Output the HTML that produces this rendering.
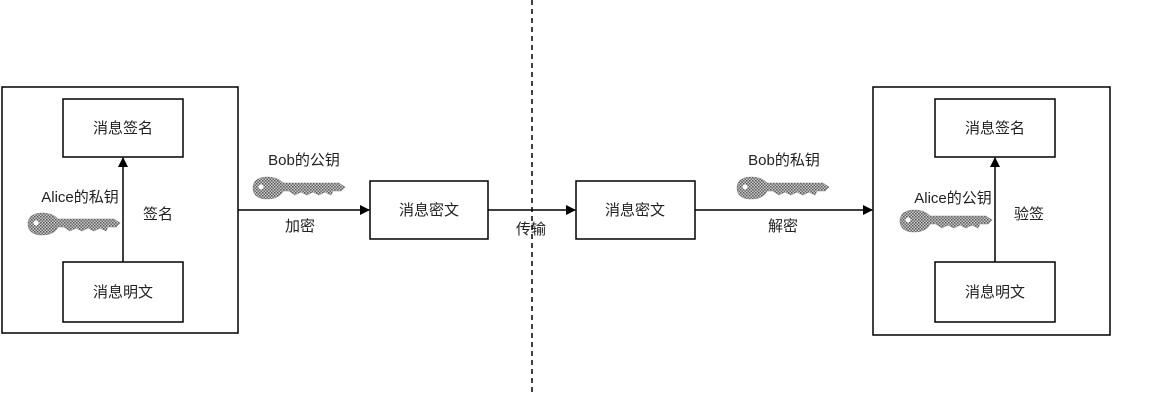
<!DOCTYPE html>
<html><head><meta charset="utf-8"><style>
html,body{margin:0;padding:0;background:#fff;}
body{width:1152px;height:404px;overflow:hidden;position:relative;}
svg text{font-family:"Liberation Sans","Noto Sans CJK SC",sans-serif;fill:#222;}
</style></head><body>
<svg width="1152" height="404" viewBox="0 0 1152 404" xmlns="http://www.w3.org/2000/svg">
<defs>
<pattern id="chk" width="3" height="3" patternUnits="userSpaceOnUse">
<rect width="3" height="3" fill="#ccc"/><rect width="1.5" height="1.5" fill="#555"/><rect x="1.5" y="1.5" width="1.5" height="1.5" fill="#666"/>
</pattern>
<g id="key">
<path d="M14 0 C24 0 28 4 30 6 L86 6 L92 10 L88 14 L80 14 L78 18 L72 15 L66 18 L60 15 L54 18 L48 15 L42 18 L36 14 L30 14 C28 18 24 22 14 22 C4 22 0 17 0 11 C0 5 4 0 14 0 Z" fill="url(#chk)" stroke="#888" stroke-width="0.6"/>
<circle cx="8" cy="10" r="2.5" fill="#fff"/>
</g>
<marker id="ar" markerWidth="10" markerHeight="10" refX="9" refY="5" orient="auto" markerUnits="userSpaceOnUse"><path d="M0 0 L10 5 L0 10 Z" fill="#000"/></marker>
</defs>
<g fill="none" stroke="#000" stroke-width="1.5">
<rect x="2" y="87" width="236" height="246"/>
<rect x="63" y="99" width="120" height="58"/>
<rect x="63" y="262" width="120" height="60"/>
<rect x="873" y="87" width="237" height="248"/>
<rect x="935" y="99" width="120" height="58"/>
<rect x="935" y="262" width="120" height="60"/>
<rect x="370" y="181" width="118" height="58"/>
<rect x="576" y="181" width="119" height="58"/>
<line x1="123" y1="262" x2="123" y2="158" marker-end="url(#ar)"/>
<line x1="995" y1="262" x2="995" y2="158" marker-end="url(#ar)"/>
<line x1="238" y1="210" x2="369" y2="210" marker-end="url(#ar)"/>
<line x1="488" y1="210" x2="575" y2="210" marker-end="url(#ar)"/>
<line x1="695" y1="210" x2="872" y2="210" marker-end="url(#ar)"/>
<line x1="532" y1="0" x2="532" y2="392" stroke-dasharray="5,4"/>
</g>
<use href="#key" transform="translate(28,213)"/>
<use href="#key" transform="translate(253,177)"/>
<use href="#key" transform="translate(737,177)"/>
<use href="#key" transform="translate(900,210)"/>
<g font-size="15" text-anchor="middle">
<text x="123" y="133">消息签名</text>
<text x="123" y="297">消息明文</text>
<text x="995" y="133">消息签名</text>
<text x="995" y="297">消息明文</text>
<text x="429" y="215">消息密文</text>
<text x="635" y="215">消息密文</text>
<text x="80" y="202">Alice的私钥</text>
<text x="158" y="219">签名</text>
<text x="953" y="203">Alice的公钥</text>
<text x="1029" y="219">验签</text>
<text x="304" y="165">Bob的公钥</text>
<text x="300" y="231">加密</text>
<text x="784" y="165">Bob的私钥</text>
<text x="783" y="231">解密</text>
<text x="531" y="234">传输</text>
</g>
</svg>
</body></html>
